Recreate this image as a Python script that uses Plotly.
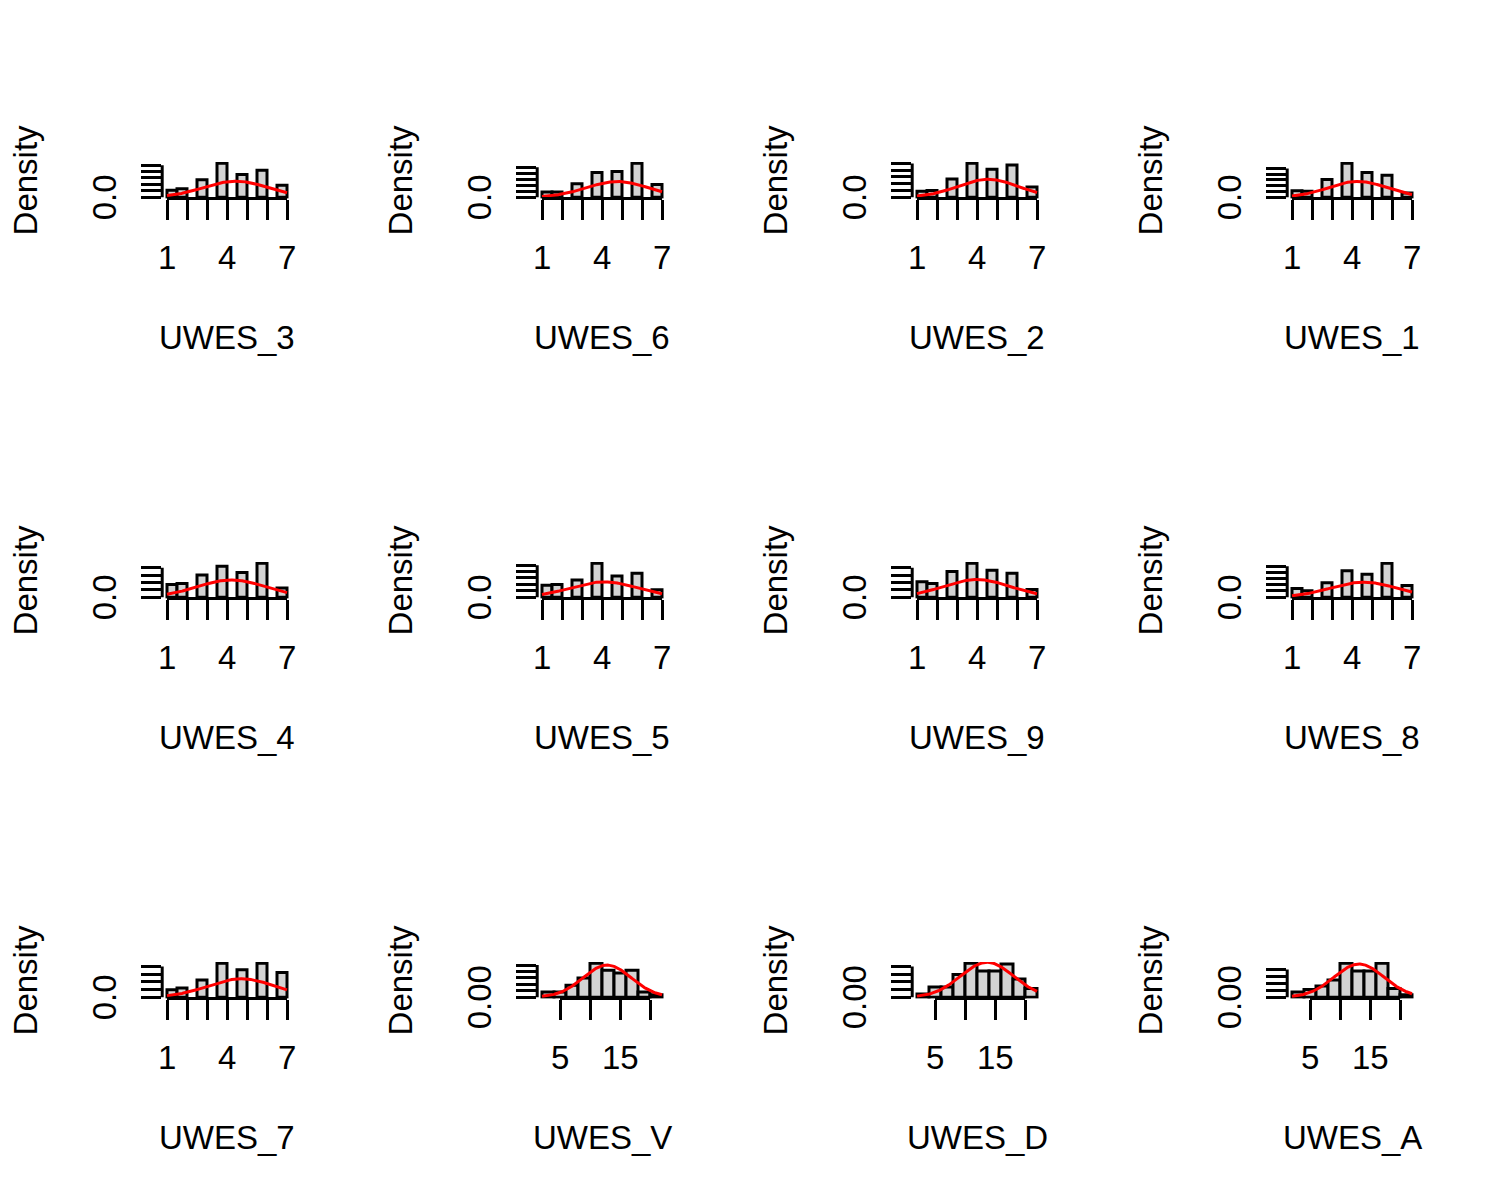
import numpy as np
import plotly.graph_objects as go

# ---------------- data ----------------
panel_names = ["UWES_3", "UWES_6", "UWES_2", "UWES_1",
               "UWES_4", "UWES_5", "UWES_9", "UWES_8",
               "UWES_7", "UWES_V", "UWES_D", "UWES_A"]

# single items: answers 1..7, histogram breaks every 0.5 (density scale)
item_values = [1, 2, 3, 4, 5, 6, 7]
item_xticks = [1, 2, 3, 4, 5, 6, 7]
item_xlabels = ["1", "", "", "4", "", "", "7"]
item_ylabel = "0.0"

dens_uwes_3 = [0.109, 0.131, 0.272, 0.529, 0.354, 0.420, 0.185]
dens_uwes_6 = [0.085, 0.085, 0.222, 0.409, 0.426, 0.563, 0.210]
dens_uwes_2 = [0.088, 0.098, 0.269, 0.503, 0.415, 0.477, 0.150]
dens_uwes_1 = [0.113, 0.101, 0.310, 0.591, 0.430, 0.382, 0.073]
dens_uwes_4 = [0.172, 0.186, 0.302, 0.419, 0.335, 0.460, 0.126]
dens_uwes_5 = [0.187, 0.197, 0.267, 0.528, 0.331, 0.373, 0.117]
dens_uwes_9 = [0.209, 0.186, 0.349, 0.460, 0.367, 0.326, 0.103]
dens_uwes_8 = [0.138, 0.105, 0.231, 0.424, 0.369, 0.545, 0.188]
dens_uwes_7 = [0.098, 0.120, 0.223, 0.441, 0.356, 0.441, 0.321]

# sub-scale totals: histogram breaks 2,4,...,22
total_breaks = [2, 4, 6, 8, 10, 12, 14, 16, 18, 20, 22]
total_xticks = [5, 10, 15, 20]
total_xlabels = ["5", "", "15", ""]
total_ylabel = "0.00"

dens_uwes_v = [0.0163, 0.0163, 0.0369, 0.0597, 0.1052, 0.0835, 0.0748, 0.0835, 0.0163, 0.0076]
dens_uwes_d = [0.0082, 0.0263, 0.0263, 0.0590, 0.0880, 0.0681, 0.0681, 0.0862, 0.0472, 0.0227]
dens_uwes_a = [0.0152, 0.0223, 0.0324, 0.0496, 0.0982, 0.0759, 0.0759, 0.0982, 0.0253, 0.0071]

item_dens = [dens_uwes_3, dens_uwes_6, dens_uwes_2, dens_uwes_1,
             dens_uwes_4, dens_uwes_5, dens_uwes_9, dens_uwes_8, dens_uwes_7]
total_dens = [dens_uwes_v, dens_uwes_d, dens_uwes_a]

# ---------------- layout geometry (R-like mfrow = c(3, 4)) ----------------
W, H = 1500, 1200
FIG_W, FIG_H = 375.0, 400.0
PLOT_L, PLOT_R = 162.2, 291.8      # plot region inside one figure cell (px)
PLOT_T, PLOT_B = 162.0, 198.5
FONT = dict(family="Liberation Sans, Arial, sans-serif", size=33, color="black")
LW = 3.0
BAR_FILL = "#D3D3D3"
RED = "#FF0000"

fig = go.Figure()
layout = dict(width=W, height=H, margin=dict(l=0, r=0, t=0, b=0),
              paper_bgcolor="white", plot_bgcolor="white", showlegend=False)
annotations = []
shapes = []

for i, name in enumerate(panel_names):
    r, c = divmod(i, 4)
    k = "" if i == 0 else str(i + 1)
    xa, ya = "x" + k, "y" + k

    if i < 9:
        dens = np.array(item_dens[i])
        vals = np.array(item_values, dtype=float)
        lefts = np.where(vals == 1, 1.0, vals - 0.5)
        rights = np.where(vals == 1, 1.5, vals)
        centers = (lefts + rights) / 2
        widths = rights - lefts
        p = dens * widths
        mean = float(np.sum(p * vals))
        sd = float(np.sqrt(np.sum(p * vals ** 2) - mean ** 2))
        x_lo, x_hi = 1.0, 7.0
        xticks, xlabels, ylab = item_xticks, item_xlabels, item_ylabel
        ystep = 0.1
    else:
        dens = np.array(total_dens[i - 9])
        br = np.array(total_breaks, dtype=float)
        lefts, rights = br[:-1], br[1:]
        centers = (lefts + rights) / 2
        widths = rights - lefts
        p = dens * widths
        # each bin holds the two integer scores (right-1, right)
        rep = rights - 0.5
        mean = float(np.sum(p * rep))
        sd = float(np.sqrt(np.sum(p * rep ** 2) - mean ** 2 + 0.25))
        x_lo, x_hi = br[0], br[-1]
        xticks, xlabels, ylab = total_xticks, total_xlabels, total_ylabel
        ystep = 0.02

    M = float(dens.max())
    yticks = list(np.round(np.arange(0, M + 1e-9, ystep), 4))
    span = x_hi - x_lo

    fig.add_trace(go.Bar(x=centers, y=dens, width=widths, xaxis=xa, yaxis=ya,
                         marker=dict(color=BAR_FILL, line=dict(color="black", width=LW)),
                         hoverinfo="skip"))
    xs = np.linspace(x_lo, x_hi, 241)
    ys = np.exp(-0.5 * ((xs - mean) / sd) ** 2) / (sd * np.sqrt(2 * np.pi))
    fig.add_trace(go.Scatter(x=xs, y=ys, mode="lines", xaxis=xa, yaxis=ya,
                             line=dict(color=RED, width=3.0), hoverinfo="skip"))

    x0 = c * FIG_W
    y0 = r * FIG_H
    layout["xaxis" + k] = dict(
        domain=[(x0 + PLOT_L) / W, (x0 + PLOT_R) / W],
        range=[x_lo - 0.04 * span, x_hi + 0.04 * span],
        anchor=ya, showgrid=False, zeroline=False, showline=False,
        ticks="outside", ticklen=20, tickwidth=LW, tickcolor="black",
        tickmode="array", tickvals=xticks, showticklabels=False, fixedrange=True)
    layout["yaxis" + k] = dict(
        domain=[1 - (y0 + PLOT_B) / H, 1 - (y0 + PLOT_T) / H],
        range=[-0.04 * M, 1.04 * M],
        anchor=xa, showgrid=False, zeroline=False, showline=False,
        ticks="outside", ticklen=20, tickwidth=LW, tickcolor="black",
        tickmode="array", tickvals=yticks, showticklabels=False, fixedrange=True)

    # axis lines (from first to last tick, like base R)
    shapes.append(dict(type="line", xref=xa, yref=ya + " domain",
                       x0=xticks[0], x1=xticks[-1], y0=0, y1=0,
                       line=dict(color="black", width=LW)))
    shapes.append(dict(type="line", xref=xa + " domain", yref=ya,
                       x0=0, x1=0, y0=yticks[0], y1=yticks[-1],
                       line=dict(color="black", width=LW)))

    # tick labels
    for tv, tl in zip(xticks, xlabels):
        if tl:
            annotations.append(dict(text=tl, xref=xa, x=tv, yref=ya + " domain", y=0,
                                    yshift=-59, xanchor="center", yanchor="middle",
                                    showarrow=False, font=FONT))
    annotations.append(dict(text=ylab, xref=xa + " domain", x=0, xshift=-58,
                            yref=ya, y=0, textangle=-90, xanchor="center",
                            yanchor="middle", showarrow=False, font=FONT))
    # axis titles
    annotations.append(dict(text="Density", xref=xa + " domain", x=0, xshift=-137,
                            yref=ya + " domain", y=0.5, textangle=-90,
                            xanchor="center", yanchor="middle", showarrow=False, font=FONT))
    annotations.append(dict(text=name, xref=xa + " domain", x=0.5,
                            yref=ya + " domain", y=0, yshift=-139,
                            xanchor="center", yanchor="middle", showarrow=False, font=FONT))

layout["annotations"] = annotations
layout["shapes"] = shapes
layout["bargap"] = 0
fig.update_layout(**layout)

fig.write_html("out.html", config={"displayModeBar": False, "staticPlot": True},
               post_script="document.body.style.margin='0';document.body.style.overflow='hidden';")
